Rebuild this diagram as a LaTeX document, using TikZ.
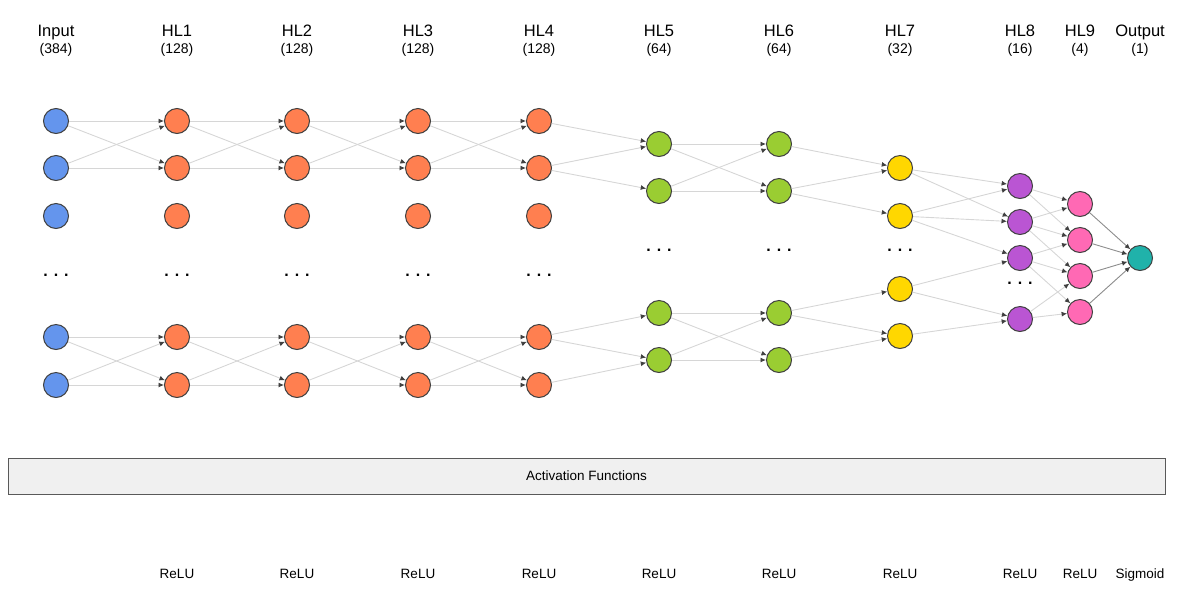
\documentclass[tikz,border=0pt]{standalone}
\usepackage{fontspec}
\setmainfont{Liberation Sans}
\usepackage{tikz}
\usetikzlibrary{arrows.meta, positioning}

\definecolor{inblue}{HTML}{6495ED}
\definecolor{hlorange}{HTML}{FF7F50}
\definecolor{hlgreen}{HTML}{9ACD32}
\definecolor{hlgold}{HTML}{FFD700}
\definecolor{hlpurple}{HTML}{BA55D3}
\definecolor{hlpink}{HTML}{FF69B4}
\definecolor{outteal}{HTML}{20B2AA}

\begin{document}
\begin{tikzpicture}[x=1pt, y=-1pt,
  neuron/.style={circle, draw=black!75, line width=1pt, minimum size=25pt, inner sep=0pt},
  dots/.style={font=\bfseries\fontsize{16}{16}\selectfont, inner sep=0pt},
  link/.style={draw=black!16, line width=0.9pt, -{Latex[length=5.5pt, width=5pt, color=black!75]}},
  outlink/.style={link, draw=black!45},
  title/.style={font=\fontsize{16.5}{16.5}\selectfont, anchor=base},
  count/.style={font=\fontsize{14}{14}\selectfont, anchor=base},
  actname/.style={font=\fontsize{13.5}{13.5}\selectfont}]
\useasboundingbox (0,0) rectangle (1201,603);

% layer headings
\foreach \x/\t/\n in {56/Input/384, 177/HL1/128, 297/HL2/128, 418/HL3/128, 539/HL4/128,
  659/HL5/64, 779/HL6/64, 900/HL7/32, 1020/HL8/16, 1080/HL9/4, 1140/Output/1}{
  \node[title] (t\t) at (\x,36) {\t};
  \node[count] (c\t) at (\x,53) {(\n)};
}

% input and the four wide hidden layers
\foreach \l/\x/\c in {0/56/inblue, 1/177/hlorange, 2/297/hlorange, 3/418/hlorange, 4/539/hlorange}{
  \foreach \r/\y in {1/121, 2/168, 3/216, 4/337, 5/385}
    \node[neuron, fill=\c] (L\l n\r) at (\x,\y) {};
  \node[dots] (d\l) at (\x,275) {. . .};
}
% HL5, HL6
\foreach \l/\x in {5/659, 6/779}{
  \foreach \r/\y in {1/144, 2/191, 4/313, 5/360}
    \node[neuron, fill=hlgreen] (L\l n\r) at (\x,\y) {};
  \node[dots] (d\l) at (\x,250) {. . .};
}
% HL7
\foreach \r/\y in {1/168, 2/216, 4/289, 5/336}
  \node[neuron, fill=hlgold] (L7n\r) at (900,\y) {};
\node[dots] (d7) at (900,250) {. . .};
% HL8
\foreach \r/\y in {1/186, 2/222, 3/258, 4/319}
  \node[neuron, fill=hlpurple] (L8n\r) at (1020,\y) {};
\node[dots] (d8) at (1020,283) {. . .};
% HL9 and output
\foreach \r/\y in {1/204, 2/240, 3/276, 4/312}
  \node[neuron, fill=hlpink] (L9n\r) at (1080,\y) {};
\node[neuron, fill=outteal] (out) at (1140,258) {};

% connections
\foreach \l [evaluate=\l as \m using int(\l+1)] in {0,1,2,3,5}
  \foreach \a/\b in {1/1, 1/2, 2/1, 2/2, 4/4, 4/5, 5/4, 5/5}
    \draw[link] (L\l n\a) -- (L\m n\b);
\foreach \l [evaluate=\l as \m using int(\l+1)] in {4,6}
  \foreach \a/\b in {1/1, 2/1, 2/2, 4/4, 4/5, 5/5}
    \draw[link] (L\l n\a) -- (L\m n\b);
\foreach \a/\b in {1/1, 1/2, 2/1, 2/2, 2/3, 4/3, 4/4, 5/4}
  \draw[link] (L7n\a) -- (L8n\b);
\foreach \a/\b in {1/1, 1/2, 2/1, 2/2, 2/3, 3/2, 3/3, 3/4, 4/3, 4/4}
  \draw[link] (L8n\a) -- (L9n\b);
\foreach \a in {1,...,4}
  \draw[outlink] (L9n\a) -- (out);

% activation functions
\node[draw=black!65, fill=black!6, line width=0.9pt, minimum width=1157pt, minimum height=36pt,
  inner sep=0pt, actname] (act) at (586.5,476) {Activation Functions};
\foreach \x/\f in {177/ReLU, 297/ReLU, 418/ReLU, 539/ReLU, 659/ReLU, 779/ReLU, 900/ReLU,
  1020/ReLU, 1080/ReLU, 1140/Sigmoid}
  \node[actname, anchor=base] (f\x) at (\x,578) {\f};
\end{tikzpicture}
\end{document}
